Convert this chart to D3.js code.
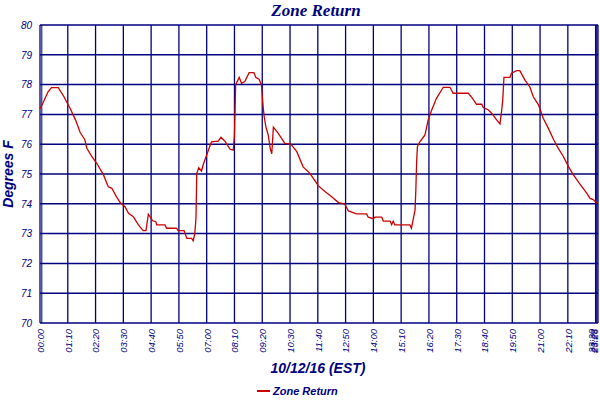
<!DOCTYPE html>
<html>
<head>
<meta charset="utf-8">
<script src="https://cdn.jsdelivr.net/npm/d3@7"></script>
<style>
  html, body { margin: 0; padding: 0; background: #fff; }
  svg { display: block; }
</style>
</head>
<body>
<svg id="chart" width="600" height="400"></svg>
<script>
// ---- data (times as HH:MM, values in degrees F) ----
const times = ["00:00","00:08","00:20","00:29","00:46","01:00","01:16","01:30","01:41","01:53","01:58","02:10","02:23","02:40","02:52","03:01","03:12","03:22","03:34","03:43","03:55","04:08","04:20","04:27","04:33","04:44","04:52","04:54","05:15","05:19","05:44","05:48","06:03","06:10","06:22","06:26","06:30","06:33","06:35","06:40","06:47","06:51","07:00","07:12","07:29","07:36","07:46","07:59","08:07","08:10","08:13","08:22","08:28","08:36","08:47","08:59","09:04","09:12","09:18","09:23","09:25","09:29","09:35","09:40","09:44","09:48","10:00","10:17","10:32","10:47","11:03","11:20","11:33","11:41","11:58","12:15","12:32","12:48","12:57","13:18","13:43","13:47","14:00","14:04","14:21","14:25","14:42","14:46","14:50","14:54","15:32","15:36","15:40","15:45","15:47","15:49","15:51","15:57","16:10","16:18","16:27","16:39","16:56","17:13","17:21","17:59","18:08","18:20","18:33","18:37","18:50","18:58","19:11","19:19","19:23","19:26","19:29","19:44","19:48","20:01","20:09","20:22","20:34","20:43","20:56","21:08","21:21","21:34","21:46","21:59","22:12","22:24","22:41","22:58","23:06","23:14","23:24"];
const values = [77.2,77.4,77.75,77.9,77.9,77.6,77.2,76.8,76.4,76.15,75.86,75.6,75.36,74.97,74.57,74.52,74.25,74.04,73.9,73.68,73.57,73.29,73.1,73.1,73.65,73.43,73.4,73.29,73.29,73.18,73.18,73.1,73.1,72.84,72.84,72.76,73.0,73.5,75.02,75.21,75.1,75.3,75.64,76.08,76.1,76.23,76.1,75.83,75.8,76.3,78.0,78.24,78.04,78.1,78.4,78.4,78.24,78.18,77.99,77.15,76.92,76.59,76.31,75.86,75.68,76.57,76.37,76.03,76.0,75.75,75.24,75.02,74.77,74.61,74.41,74.24,74.04,73.99,73.76,73.66,73.66,73.55,73.5,73.55,73.55,73.42,73.42,73.3,73.42,73.29,73.29,73.18,73.46,73.79,74.46,75.41,75.92,76.08,76.31,76.81,77.15,77.54,77.91,77.91,77.71,77.71,77.57,77.34,77.34,77.23,77.15,77.04,76.81,76.68,77.1,77.48,78.24,78.24,78.38,78.47,78.47,78.15,77.93,77.59,77.32,76.87,76.53,76.16,75.86,75.58,75.24,74.97,74.65,74.35,74.18,74.14,74.01];
const xTickLabels = ["00:00","01:10","02:20","03:30","04:40","05:50","07:00","08:10","09:20","10:30","11:40","12:50","14:00","15:10","16:20","17:30","18:40","19:50","21:00","22:10","23:20","23:23","23:26"];
const yTickLabels = ["70","71","72","73","74","75","76","77","78","79","80"];
const seriesName = "Zone Return";
const chartTitle = "Zone Return";
const xTitle = "10/12/16 (EST)";
const yTitle = "Degrees F";

// ---- helpers ----
const toMin = s => { const [h, m] = s.split(":").map(Number); return h * 60 + m; };
const data = times.map((t, i) => ({ t: toMin(t), v: values[i] }));

const navy = "#000080";
const red = "#cc0000";
const svg = d3.select("#chart");

const pL = 40, pR = 598, pT = 25, pB = 323;
const x = d3.scaleLinear().domain([0, toMin("23:26")]).range([pL, pR]);
const y = d3.scaleLinear().domain([70, 80]).range([pB, pT]);

const xTickVals = xTickLabels.map(toMin);
const yTickVals = yTickLabels.map(Number);

// gridlines
const g = svg.append("g");
g.selectAll("line.h").data(yTickVals).join("line").attr("class", "h")
  .attr("x1", pL).attr("x2", pR)
  .attr("y1", d => y(d)).attr("y2", d => y(d))
  .attr("stroke", navy).attr("stroke-width", 1.5);
g.selectAll("line.v").data(xTickVals).join("line").attr("class", "v")
  .attr("x1", d => x(d)).attr("x2", d => x(d))
  .attr("y1", pT).attr("y2", pB)
  .attr("stroke", navy).attr("stroke-width", 1.3);
// extra axis line (double line at left)
g.append("line").attr("x1", pL + 1.8).attr("x2", pL + 1.8)
  .attr("y1", pT).attr("y2", pB).attr("stroke", navy).attr("stroke-width", 1);

// y axis labels
const yAxis = d3.axisLeft(y).tickValues(yTickVals).tickFormat((d, i) => yTickLabels[i]).tickSize(0).tickPadding(8);
const ya = svg.append("g").attr("transform", `translate(${pL},0)`).call(yAxis);
ya.select(".domain").remove();
ya.selectAll("text").attr("fill", navy)
  .style("font-family", "'Liberation Sans', Arial, sans-serif")
  .style("font-style", "italic").style("font-size", "10px");

// x axis labels
const xAxis = d3.axisBottom(x).tickValues(xTickVals).tickFormat((d, i) => xTickLabels[i]).tickSize(0);
const xa = svg.append("g").attr("transform", `translate(0,${pB})`).call(xAxis);
xa.select(".domain").remove();
xa.selectAll("text")
  .attr("fill", navy)
  .attr("transform", "rotate(-90)")
  .attr("text-anchor", "end")
  .attr("x", -6)
  .attr("y", d => (x(d) > 594 ? -4 : 0))
  .attr("dy", "0.35em")
  .style("font-family", "'Liberation Sans', Arial, sans-serif")
  .style("font-style", "italic").style("font-size", "9.5px");

// series line
const line = d3.line().x(d => x(d.t)).y(d => y(d.v));
svg.append("path").datum(data)
  .attr("fill", "none").attr("stroke", red).attr("stroke-width", 1.3)
  .attr("stroke-linejoin", "miter")
  .attr("d", line);

// titles
svg.append("text").attr("x", 316).attr("y", 16).attr("text-anchor", "middle")
  .attr("fill", navy)
  .style("font-family", "'Liberation Serif', 'Times New Roman', serif")
  .style("font-style", "italic").style("font-weight", "bold").style("font-size", "17px")
  .text(chartTitle);

svg.append("text").attr("x", 318).attr("y", 373).attr("text-anchor", "middle")
  .attr("fill", navy)
  .style("font-family", "'Liberation Sans', Arial, sans-serif")
  .style("font-style", "italic").style("font-weight", "bold").style("font-size", "14px")
  .text(xTitle);

svg.append("text").attr("transform", "translate(13,174) rotate(-90)").attr("text-anchor", "middle")
  .attr("fill", navy)
  .style("font-family", "'Liberation Sans', Arial, sans-serif")
  .style("font-style", "italic").style("font-weight", "bold").style("font-size", "14px")
  .text(yTitle);

// legend
const lg = svg.append("g");
lg.append("line").attr("x1", 257).attr("x2", 270).attr("y1", 391).attr("y2", 391)
  .attr("stroke", red).attr("stroke-width", 2);
lg.append("text").attr("x", 273).attr("y", 395)
  .attr("fill", navy)
  .style("font-family", "'Liberation Sans', Arial, sans-serif")
  .style("font-style", "italic").style("font-weight", "bold").style("font-size", "11px")
  .text(seriesName);
</script>
</body>
</html>
